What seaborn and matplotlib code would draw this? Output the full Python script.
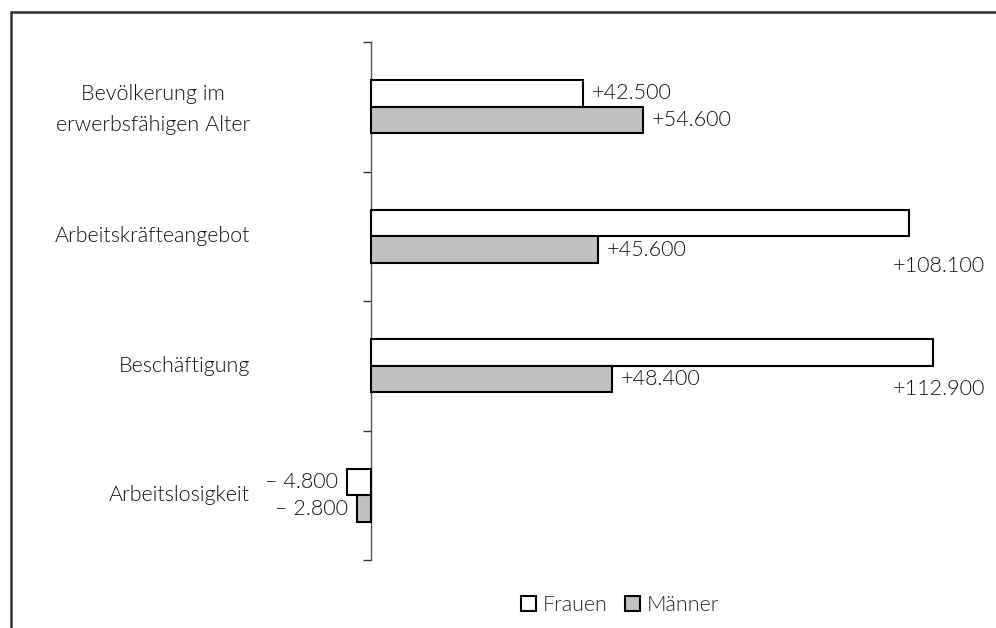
import matplotlib
matplotlib.use("Agg")
import matplotlib.pyplot as plt
from matplotlib.lines import Line2D
import seaborn as sns
import pandas as pd

# Change by indicator and sex (persons)
categories = ["Bevölkerung im\nerwerbsfähigen Alter", "Arbeitskräfteangebot",
              "Beschäftigung", "Arbeitslosigkeit"]
frauen = [42500, 108100, 112900, -4800]
maenner = [54600, 45600, 48400, -2800]
series = ["Frauen", "Männer"]

df = pd.DataFrame({
    "Kategorie": categories * 2,
    "Wert": frauen + maenner,
    "Geschlecht": [series[0]] * 4 + [series[1]] * 4,
})

sns.set_theme(style="white")
plt.rcParams["font.family"] = ["Lato", "DejaVu Sans"]
plt.rcParams["font.weight"] = 300

W, H = 996, 628
fig = plt.figure(figsize=(W / 100, H / 100), dpi=100)
ax = fig.add_axes([11 / W, 68 / H, (W - 11) / W, 518 / H])

sns.barplot(data=df, y="Kategorie", x="Wert", hue="Geschlecht",
            hue_order=series, order=categories, orient="h",
            palette=["white", "#c0c0c0"], edgecolor="black", linewidth=1.5,
            width=0.41, ax=ax, legend=True)

px = 4.978 / 1000  # pixels per person
ax.set_xlim(-360 / px, 625 / px)
ax.set_ylim(3.5, -0.5)

for s in ["top", "right", "bottom"]:
    ax.spines[s].set_visible(False)
ax.spines["left"].set_position(("data", 0))
ax.spines["left"].set_color("#555555")
ax.spines["left"].set_linewidth(1.0)
ax.spines["left"].set_zorder(0.5)
ax.set_yticks([-0.5, 0.5, 1.5, 2.5, 3.5])
ax.set_yticklabels([])
ax.tick_params(axis="y", direction="out", length=6, width=1.0,
               color="#333333", left=True)
ax.set_xticks([])
ax.set_xlabel("")
ax.set_ylabel("")

fs = 15.5
tc = "#111111"
# Category labels to the left of the axis
for i, c in enumerate(categories):
    ax.text(-121 / px, i + (0.02 if "\n" in c else 0), c, ha="right", va="center",
            multialignment="center", fontsize=fs, color=tc, linespacing=1.7)


def fmt(v):
    s = f"{abs(v):,}".replace(",", ".")
    return ("+" if v >= 0 else "– ") + s


off = 0.1025
gap = 9 / px
for i in range(4):
    for j, vals in enumerate([frauen, maenner]):
        v = vals[i]
        y = i + (-off if j == 0 else off)
        if v < 0:
            ax.text(v - gap, y, fmt(v), ha="right", va="center",
                    fontsize=fs, color=tc)
        elif v > 100000:
            # no room at the bar end: label below, flush with the right margin
            ax.text(614 / px, y + (0.335 if i == 1 else 0.285), fmt(v),
                    ha="right", va="center", fontsize=fs, color=tc)
        else:
            ax.text(v + gap, y, fmt(v), ha="left", va="center",
                    fontsize=fs, color=tc)

leg = ax.legend(loc="center", bbox_to_anchor=(620 / W, 1 - 605 / H),
                bbox_transform=fig.transFigure, ncol=2, frameon=False,
                fontsize=fs, handlelength=0.7, handleheight=0.7,
                handletextpad=0.3, columnspacing=0.8, borderpad=0)
for h in leg.legend_handles:
    h.set_linewidth(1.5)
    h.set_edgecolor("black")

# Outer frame along top and left
fig.add_artist(Line2D([11 / W, 11 / W], [0, 1 - 12 / H], transform=fig.transFigure,
                      color="#333333", lw=1.8))
fig.add_artist(Line2D([11 / W, 1], [1 - 12 / H, 1 - 12 / H], transform=fig.transFigure,
                      color="#333333", lw=1.8))

fig.savefig("out.png", dpi=100, facecolor="white")
